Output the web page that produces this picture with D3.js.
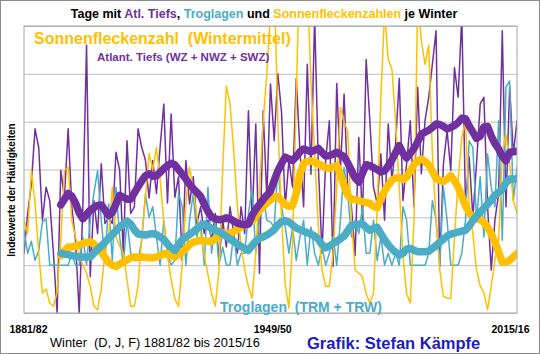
<!DOCTYPE html>
<html>
<head>
<meta charset="utf-8">
<script src="https://cdn.jsdelivr.net/npm/d3@7"></script>
<style>
  body { margin: 0; background: #fff; }
  svg { display: block; font-family: "Liberation Sans", Arial, sans-serif; }
</style>
</head>
<body>
<svg id="chart" width="540" height="354"></svg>
<script>
// winters 1881/82 .. 2015/16, one value per winter (index units, gridline = 1)
const tickLabels = ["1881/82", "1949/50", "2015/16"];
const tickIndex = [0, 68, 134];

const atlTiefs = [
  1.25, 2.08, 2.7, 3.85, 3.46, 1.94, 2.63, 2.35, 1.25, 0.0,
  2.98, 2.42, 3.85, 2.22, 1.52, 0.0, 2.22, 5.6, 0.76, 2.35,
  1.66, 3.12, 1.87, 2.0, 1.87, 3.36, 2.98, 1.25, 3.6, 2.08,
  2.22, 3.85, 3.46, 3.2, 2.4, 3.19, 2.5, 3.47, 4.37, 2.3,
  4.16, 2.42, 2.85, 1.1, 3.19, 2.28, 2.85, 1.87, 2.22, 1.66,
  1.94, 1.52, 2.08, 1.1, 1.94, 1.38, 2.22, 1.66, 1.25, 2.22,
  1.66, 4.23, 1.94, 3.95, 0.83, 4.23, 2.42, 4.79, 3.6, 5.0,
  4.2, 2.22, 3.19, 2.63, 4.9, 3.4, 2.22, 5.2, 2.9, 6.2,
  3.1, 1.25, 3.19, 4.02, 0.97, 4.8, 2.98, 4.58, 2.63, 2.22,
  1.2, 3.67, 1.94, 5.3, 4.02, 2.63, 2.28, 3.33, 1.94, 3.95,
  2.77, 3.53, 4.9, 2.35, 3.12, 4.02, 2.22, 4.72, 2.91, 4.02,
  4.51, 5.2, 5.9, 0.97, 3.12, 3.81, 2.98, 5.13, 4.51, 6.2,
  2.28, 3.26, 2.01, 3.12, 4.37, 4.51, 2.22, 0.9, 1.94, 2.49,
  5.9, 2.22, 4.72, 3.33, 4.02
];
const troglagen = [
  1.73, 1.25, 1.5, 1.1, 1.3, 1.9, 1.97, 1.0, 1.0, 1.0,
  1.0, 1.0, 1.0, 1.25, 1.0, 1.0, 1.59, 1.0, 1.94, 2.5,
  2.98, 1.94, 1.1, 2.28, 1.1, 2.63, 1.59, 1.0, 1.94, 1.25,
  1.1, 1.1, 1.52, 2.49, 2.0, 2.22, 1.59, 1.0, 1.94, 1.25,
  1.0, 1.1, 2.5, 2.22, 1.0, 1.94, 2.49, 1.59, 1.94, 1.0,
  2.63, 1.25, 1.94, 1.0, 1.38, 1.0, 1.0, 1.66, 1.0, 1.25,
  1.25, 2.08, 2.6, 1.25, 1.94, 2.49, 1.94, 1.9, 1.8, 3.05,
  2.22, 1.8, 1.25, 1.8, 1.1, 1.59, 1.94, 1.0, 1.8, 1.25,
  1.0, 1.38, 1.0, 1.25, 1.59, 1.0, 1.94, 3.05, 2.49, 1.59,
  1.94, 1.66, 2.22, 1.25, 1.25, 1.94, 1.1, 1.59, 1.0, 1.25,
  1.0, 1.25, 1.0, 2.22, 1.94, 1.0, 1.0, 1.0, 1.0, 1.0,
  1.25, 2.35, 1.94, 1.0, 2.63, 1.94, 1.0, 1.0, 1.0, 1.25,
  1.94, 3.6, 3.46, 1.94, 2.85, 1.59, 3.33, 2.63, 2.22, 4.02,
  1.52, 4.72, 4.85, 2.35, 3.05
];
const sonnenflecken = [
  1.94, 1.66, 2.98, 2.3, 1.25, 0.42, 0.5, 0.21, 0.14, 0.42,
  1.52, 2.98, 3.05, 1.94, 1.59, 1.25, 1.0, 0.83, 0.56, 0.14,
  0.07, 0.5, 1.25, 1.59, 2.63, 1.59, 1.4, 1.25, 0.69, 0.14,
  0.14, 0.56, 1.59, 2.4, 3.33, 3.0, 3.46, 2.8, 1.9, 1.2,
  0.69, 0.3, 0.14, 1.0, 2.3, 3.05, 2.6, 2.0, 1.66, 1.2,
  0.8, 0.4, 0.14, 0.9, 3.0, 4.75, 4.37, 3.4, 2.22, 1.4,
  0.9, 0.55, 0.31, 1.25, 2.6, 4.0, 5.0, 6.3, 7.0, 4.0,
  2.0, 0.6, 0.1, 1.5, 4.5, 7.5, 8.0, 7.0, 4.8, 3.33,
  1.8, 0.9, 0.56, 0.56, 1.25, 2.63, 4.3, 4.0, 3.8, 1.94,
  0.9, 0.83, 0.76, 0.4, 0.21, 0.42, 2.2, 4.5, 6.3, 5.3,
  5.1, 4.02, 2.63, 1.2, 0.4, 0.21, 1.94, 6.5, 5.7, 5.2,
  5.6, 3.33, 1.94, 0.9, 0.35, 0.31, 0.31, 1.59, 2.77, 3.67,
  4.02, 2.22, 1.66, 0.9, 0.56, 0.42, 0.07, 0.56, 1.1, 1.52,
  3.33, 3.74, 3.12, 2.35, 2.08
];

// smoothed curves, winters 1891/92 .. 2015/16
const smoothStart = 10;
const atlTiefsSmooth = [
  2.26, 2.38, 2.5, 2.44, 2.3, 2.09, 1.97, 2.06, 2.15, 2.2,
  2.25, 2.26, 2.15, 2.04, 2.1, 2.28, 2.46, 2.42, 2.38, 2.38,
  2.51, 2.64, 2.76, 2.87, 2.91, 2.86, 2.87, 2.94, 3.02, 3.08,
  3.13, 3.1, 3.0, 2.9, 2.8, 2.69, 2.6, 2.52, 2.44, 2.27,
  2.12, 2.0, 1.97, 1.95, 1.96, 1.99, 1.97, 1.92, 1.88, 1.86,
  1.84, 1.86, 2.04, 2.17, 2.27, 2.37, 2.46, 2.55, 2.77, 2.97,
  3.12, 3.26, 3.22, 3.19, 3.27, 3.37, 3.43, 3.4, 3.37, 3.4,
  3.44, 3.36, 3.28, 3.29, 3.32, 3.36, 3.31, 3.27, 3.14, 2.98,
  2.82, 2.74, 2.92, 3.1, 3.08, 3.04, 3.0, 2.95, 2.97, 3.08,
  3.2, 3.35, 3.5, 3.34, 3.24, 3.34, 3.44, 3.58, 3.74, 3.78,
  3.82, 3.88, 3.95, 3.94, 3.9, 3.85, 3.88, 3.92, 3.98, 4.07,
  4.06, 3.91, 3.78, 3.65, 3.7, 3.89, 3.9, 3.7, 3.54, 3.43,
  3.28, 3.18, 3.36, 3.37, 3.38
];
const troglagenSmooth = [
  1.25, 1.23, 1.22, 1.2, 1.19, 1.17, 1.17, 1.17, 1.17, 1.25,
  1.33, 1.4, 1.48, 1.56, 1.64, 1.72, 1.8, 1.86, 1.92, 1.86,
  1.74, 1.65, 1.64, 1.63, 1.65, 1.66, 1.64, 1.59, 1.54, 1.44,
  1.36, 1.31, 1.43, 1.53, 1.59, 1.64, 1.7, 1.76, 1.82, 1.86,
  1.81, 1.77, 1.73, 1.7, 1.65, 1.6, 1.54, 1.49, 1.44, 1.39,
  1.35, 1.31, 1.41, 1.5, 1.56, 1.59, 1.63, 1.68, 1.74, 1.84,
  1.91, 1.93, 1.9, 1.84, 1.78, 1.74, 1.71, 1.68, 1.65, 1.61,
  1.54, 1.43, 1.36, 1.4, 1.45, 1.5, 1.55, 1.61, 1.72, 1.83,
  1.84, 1.86, 1.86, 1.79, 1.73, 1.77, 1.79, 1.66, 1.53, 1.43,
  1.34, 1.27, 1.21, 1.25, 1.34, 1.35, 1.31, 1.28, 1.28, 1.28,
  1.29, 1.35, 1.41, 1.48, 1.54, 1.61, 1.65, 1.67, 1.69, 1.71,
  1.73, 1.82, 1.93, 2.03, 2.11, 2.19, 2.27, 2.37, 2.46, 2.52,
  2.59, 2.72, 2.8, 2.8, 2.8
];
const sonnenfleckenSmooth = [
  1.2, 1.3, 1.38, 1.38, 1.4, 1.42, 1.45, 1.47, 1.49, 1.44,
  1.36, 1.28, 1.17, 1.06, 1.0, 0.97, 1.02, 1.07, 1.11, 1.15,
  1.17, 1.17, 1.17, 1.16, 1.16, 1.15, 1.17, 1.2, 1.24, 1.22,
  1.2, 1.17, 1.22, 1.28, 1.34, 1.43, 1.48, 1.5, 1.52, 1.51,
  1.5, 1.49, 1.55, 1.62, 1.67, 1.67, 1.66, 1.7, 1.75, 1.8,
  1.84, 1.87, 1.92, 2.03, 2.14, 2.22, 2.3, 2.36, 2.43, 2.43,
  2.35, 2.27, 2.23, 2.25, 2.5, 2.9, 3.13, 3.17, 3.18, 3.15,
  3.12, 3.08, 3.04, 3.02, 3.05, 3.08, 2.9, 2.66, 2.46, 2.38,
  2.37, 2.35, 2.33, 2.31, 2.29, 2.23, 2.2, 2.38, 2.55, 2.67,
  2.78, 2.82, 2.84, 2.79, 2.84, 2.97, 3.1, 3.17, 3.22, 3.17,
  3.1, 2.96, 2.81, 2.78, 2.75, 2.8, 2.87, 2.77, 2.63, 2.44,
  2.24, 2.1, 1.99, 1.97, 1.95, 1.89, 1.79, 1.66, 1.48, 1.28,
  1.06, 1.06, 1.1, 1.17, 1.24
];

const purple = "#7030A0", cyan = "#4BACC6", yellow = "#FFC000";

const svg = d3.select("#chart");
const plotLeft = 24, plotRight = 517, plotTop = 26, plotBottom = 313;

const x = d3.scaleLinear().domain([0, atlTiefs.length - 1]).range([plotLeft, plotRight]);
const y = d3.scaleLinear().domain([0, 6]).range([plotBottom, plotTop]);

// outer frame
svg.append("rect")
  .attr("x", 0.5).attr("y", 0.5).attr("width", 539).attr("height", 353)
  .attr("fill", "#fff").attr("stroke", "#8c8c8c");

// gridlines
svg.append("g")
  .attr("transform", `translate(${plotLeft},0)`)
  .call(d3.axisLeft(y).ticks(6).tickSize(-(plotRight - plotLeft)).tickFormat(""))
  .call(g => g.select(".domain").remove())
  .call(g => g.selectAll("line").attr("stroke", "#c0c0c0"));

svg.append("clipPath").attr("id", "plot")
  .append("rect").attr("x", plotLeft).attr("y", plotTop)
  .attr("width", plotRight - plotLeft).attr("height", plotBottom - plotTop);

const plot = svg.append("g").attr("clip-path", "url(#plot)");

function drawLine(values, offset, color, width) {
  const line = d3.line()
    .x((d, i) => x(i + offset))
    .y(d => y(d));
  plot.append("path")
    .datum(values)
    .attr("d", line)
    .attr("fill", "none")
    .attr("stroke", color)
    .attr("stroke-width", width)
    .attr("stroke-linejoin", "round")
    .attr("stroke-linecap", "round");
}

drawLine(atlTiefs, 0, purple, 1.5);
drawLine(troglagen, 0, cyan, 1.5);
drawLine(sonnenflecken, 0, yellow, 1.5);
drawLine(sonnenfleckenSmooth, smoothStart, yellow, 7.5);
drawLine(troglagenSmooth, smoothStart, cyan, 7.5);
drawLine(atlTiefsSmooth, smoothStart, purple, 7.5);

// plot border
svg.append("rect")
  .attr("x", plotLeft).attr("y", plotTop)
  .attr("width", plotRight - plotLeft).attr("height", plotBottom - plotTop)
  .attr("fill", "none").attr("stroke", "#a6a6a6");

// x labels
const xAxis = svg.append("g")
  .attr("transform", `translate(0,${plotBottom})`)
  .call(d3.axisBottom(x).tickValues(tickIndex)
    .tickFormat((d, i) => tickLabels[i]).tickSize(0).tickPadding(13));
xAxis.select(".domain").remove();
xAxis.selectAll("text")
  .attr("font-family", "Liberation Sans, Arial, sans-serif")
  .attr("font-size", 10.5).attr("font-weight", "bold").attr("fill", "#000")
  .attr("dx", (d, i) => [4, -2, -7][i]);

// texts
const title = svg.append("text")
  .attr("x", 264).attr("y", 18)
  .attr("text-anchor", "middle")
  .attr("font-size", 12.5).attr("font-weight", "bold");
[["Tage mit ", "#000"], ["Atl. Tiefs", purple], [", ", "#000"],
 ["Troglagen", cyan], [" und ", "#000"], ["Sonnenfleckenzahlen", yellow],
 [" je Winter", "#000"]].forEach(([t, c]) => title.append("tspan").attr("fill", c).text(t));

svg.append("text")
  .attr("x", 34).attr("y", 44)
  .attr("font-size", 16).attr("font-weight", "bold").attr("fill", yellow)
  .attr("xml:space", "preserve")
  .text("Sonnenfleckenzahl  (Wintermittel)");

svg.append("text")
  .attr("x", 97).attr("y", 61)
  .attr("font-size", 11.5).attr("font-weight", "bold").attr("fill", purple)
  .text("Atlant. Tiefs (WZ + NWZ + SWZ)");

svg.append("text")
  .attr("x", 301).attr("y", 312)
  .attr("text-anchor", "middle")
  .attr("font-size", 14).attr("font-weight", "bold").attr("fill", cyan)
  .attr("xml:space", "preserve")
  .text("Troglagen  (TRM + TRW)");

svg.append("text")
  .attr("transform", "translate(15,190) rotate(-90)")
  .attr("text-anchor", "middle")
  .attr("font-size", 10).attr("font-weight", "bold").attr("fill", "#000")
  .text("Indexwerte der Häufigkeiten");

svg.append("text")
  .attr("x", 50).attr("y", 347)
  .attr("font-size", 12.8).attr("fill", "#000")
  .attr("xml:space", "preserve")
  .text("Winter  (D, J, F) 1881/82 bis 2015/16");

svg.append("text")
  .attr("x", 307).attr("y", 349)
  .attr("font-size", 16.5).attr("font-weight", "bold").attr("fill", "#1c1cc8")
  .text("Grafik: Stefan Kämpfe");
</script>
</body>
</html>
